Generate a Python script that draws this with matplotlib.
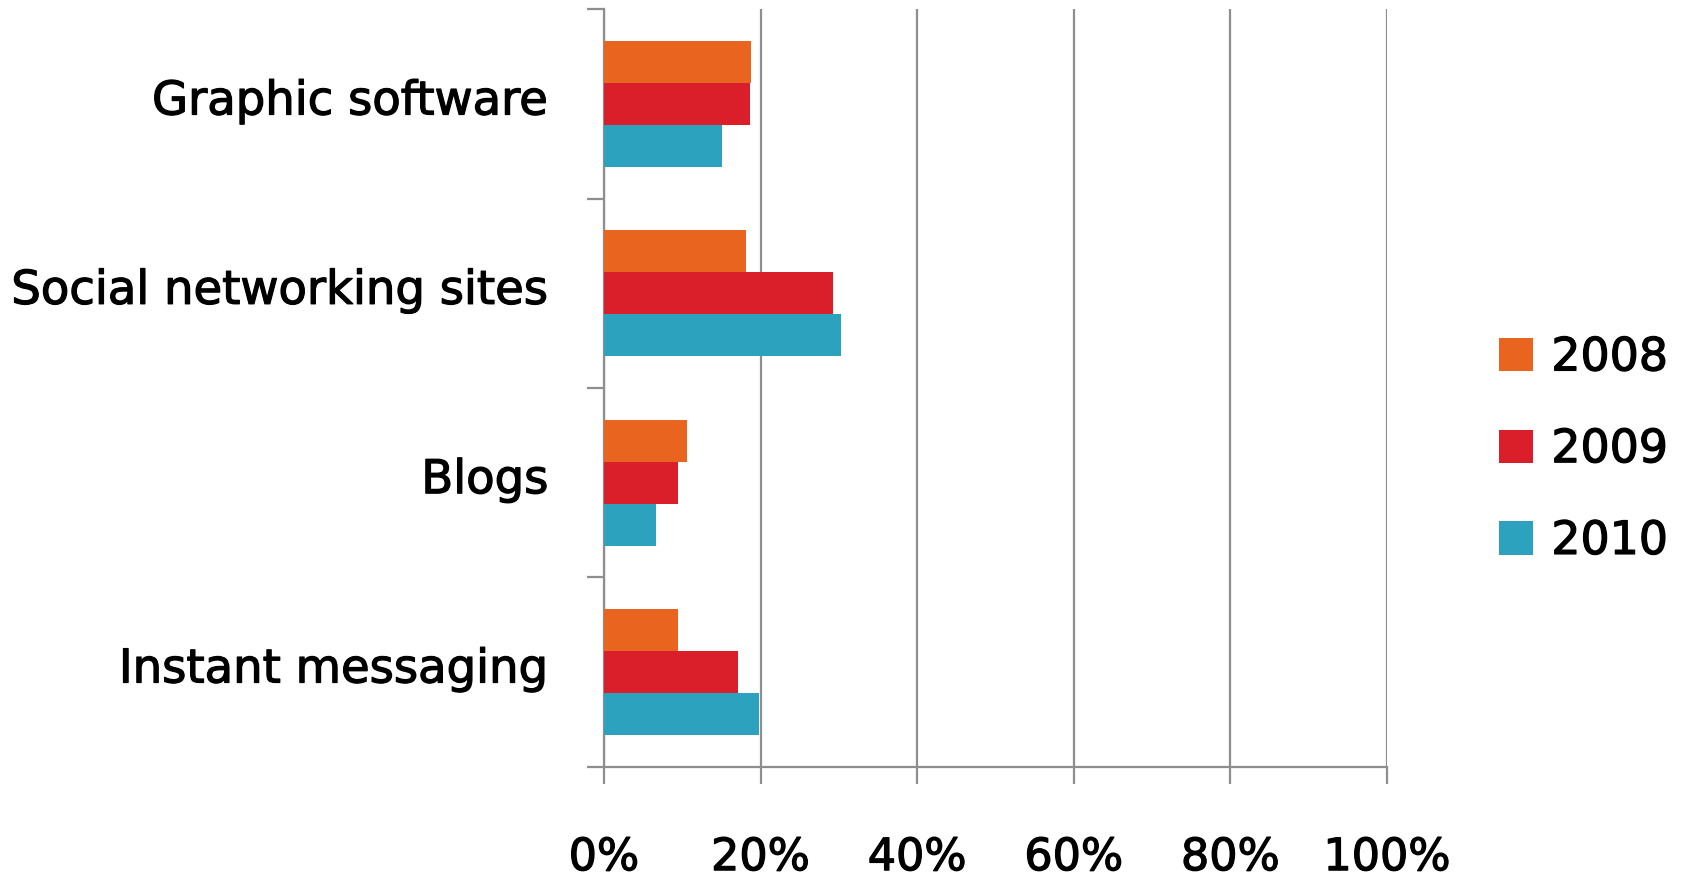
import numpy as np
import matplotlib
matplotlib.use("Agg")
import matplotlib.pyplot as plt
import matplotlib.patheffects as pe
from matplotlib.transforms import ScaledTranslation

# Data (percent)
categories = ["Graphic software", "Social networking sites", "Blogs", "Instant messaging"]
years = ["2008", "2009", "2010"]
values_2008 = [18.8, 18.2, 10.6, 9.4]
values_2009 = [18.7, 29.2, 9.4, 17.1]
values_2010 = [15.1, 30.3, 6.6, 19.8]
x_ticks = [0, 20, 40, 60, 80, 100]
x_tick_labels = ["0%", "20%", "40%", "60%", "80%", "100%"]

colors = ["#E9641E", "#DA1F2A", "#2CA2BF"]
grey = "#8E8E8E"

plt.rcParams['font.family'] = ['DejaVu Sans']

fig = plt.figure(figsize=(16.89, 8.80), dpi=100)
ax = fig.add_axes([0.3576, 0.1288, 0.4636, 0.8606])

y = np.arange(len(categories))
bar_h = 0.222
series = [values_2008, values_2009, values_2010]
for i, (vals, yr) in enumerate(zip(series, years)):
    ax.barh(y + (i - 1) * bar_h, vals, height=bar_h, color=colors[i],
            label=yr, zorder=3)

ax.set_xlim(0, 100)
ax.set_ylim(len(categories) - 0.5, -0.5)

# x axis
ax.set_xticks(x_ticks)
ax.set_xticklabels(x_tick_labels, fontsize=32)
ax.tick_params(axis='x', direction='out', length=12, width=1.6, color=grey, pad=38)
ax.grid(axis='x', color=grey, linewidth=1.6, zorder=0)
ax.set_axisbelow(True)

# y axis: ticks at category boundaries, labels at centers
ax.set_yticks(np.arange(-0.5, len(categories), 1.0))
ax.set_yticklabels([])
ax.set_yticks(y, minor=True)
ax.set_yticklabels(categories, minor=True, fontsize=33.5)
ax.tick_params(axis='y', which='major', direction='out', length=12, width=1.6, color=grey)
ax.tick_params(axis='y', which='minor', length=0, pad=40)

# labels sit a little higher than the category centre in the original
shift_up = ScaledTranslation(0, 0.07, fig.dpi_scale_trans)
for lab in ax.get_yticklabels(minor=True):
    lab.set_transform(lab.get_transform() + shift_up)

for side in ['top', 'right']:
    ax.spines[side].set_visible(False)
for side in ['left', 'bottom']:
    ax.spines[side].set_color(grey)
    ax.spines[side].set_linewidth(1.6)

leg = ax.legend(loc='center left', bbox_to_anchor=(0.874, 0.489), bbox_transform=fig.transFigure,
                frameon=False, fontsize=33, handlelength=0.74, handleheight=0.74,
                handletextpad=0.4, labelspacing=1.02, borderpad=0)

# slightly heavier strokes, like the original font
heavy = [pe.withStroke(linewidth=0.9, foreground='black')]
for t in ax.get_xticklabels() + ax.get_yticklabels(minor=True) + leg.get_texts():
    t.set_path_effects(heavy)

fig.savefig("out.png", dpi=100)
